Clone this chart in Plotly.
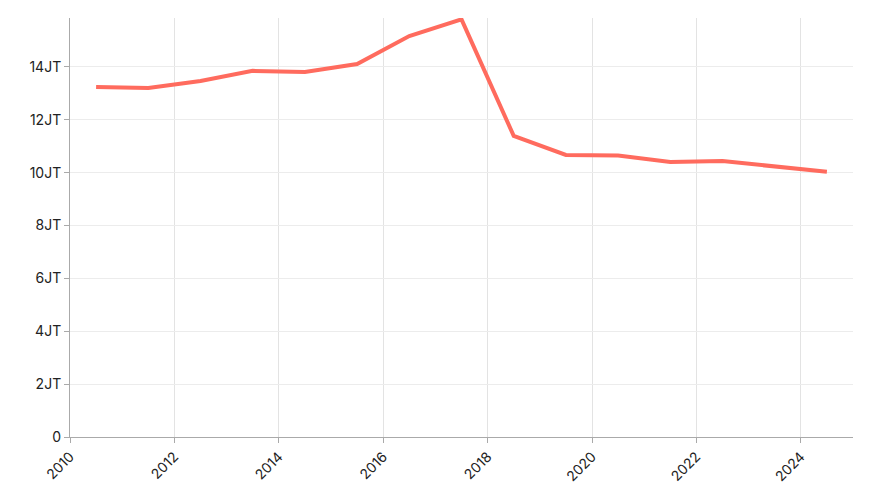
import plotly.graph_objects as go

years = [2010.5+i for i in range(15)]
values = [13.24,13.2,13.47,13.85,13.81,14.11,15.17,15.8,11.39,10.67,10.65,10.4,10.44,10.22,10.03]
ytickvals = [0,2,4,6,8,10,12,14]
yticktext = ["0","2JT","4JT","6JT","8JT","10JT","12JT","14JT"]
xtickvals = [2010,2012,2014,2016,2018,2020,2022,2024]

fig = go.Figure(go.Scatter(x=years, y=[v*1e6 for v in values], mode="lines",
    line=dict(color="#ff6b5e", width=4)))
fig.update_layout(width=873, height=500, margin=dict(l=62, r=28, t=10, b=71, autoexpand=False),
    plot_bgcolor="white", paper_bgcolor="white", showlegend=False,
    font=dict(family="Inter", size=14, color="#222"))
fig.update_xaxes(range=[2010, 2025], tickvals=xtickvals, tickangle=-45,
    showgrid=True, gridcolor="#e3e3e3", showline=True, linecolor="#aaa",
    ticks="outside", ticklen=5, tickcolor="#aaa")
fig.update_yaxes(range=[0, 15.85e6], tickvals=[v*1e6 for v in ytickvals], ticktext=yticktext,
    showgrid=True, gridcolor="#ececec", showline=True, linecolor="#aaa", zeroline=False,
    ticks="outside", ticklen=5, tickcolor="#aaa")
fig.write_html("out.html")
